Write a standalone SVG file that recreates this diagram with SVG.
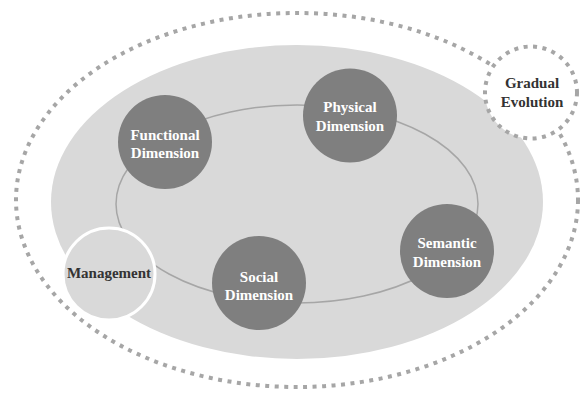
<svg xmlns="http://www.w3.org/2000/svg" width="581" height="394" viewBox="0 0 581 394">
<style>
.dot{fill:none;stroke:#a6a6a6;stroke-width:4;stroke-dasharray:4 5.5}
.dim{fill:#7f7f7f}
.wt{font-family:"Liberation Serif","Times New Roman",serif;font-weight:bold;font-size:15px;fill:#ffffff;text-anchor:middle}
.dk{font-family:"Liberation Serif","Times New Roman",serif;font-weight:bold;font-size:15px;fill:#333333;text-anchor:middle}
</style>
<rect width="581" height="394" fill="#ffffff"/>
<g id="outer-boundary"><ellipse class="dot" cx="297" cy="200" rx="281" ry="187"/></g>
<g id="context"><ellipse cx="297" cy="202" rx="246" ry="157" fill="#d9d9d9"/></g>
<g id="connectors"><ellipse cx="297" cy="204" rx="181" ry="99" fill="none" stroke="#a6a6a6" stroke-width="1.5"/></g>
<g id="management">
<circle cx="109" cy="274" r="46" fill="#d9d9d9" stroke="#ffffff" stroke-width="3"/>
<text class="dk" x="109" y="278">Management</text>
</g>
<g id="functional">
<circle class="dim" cx="165" cy="142" r="47"/>
<text class="wt" x="165" y="140">Functional</text>
<text class="wt" x="165" y="158">Dimension</text>
</g>
<g id="physical">
<circle class="dim" cx="350" cy="115.5" r="47"/>
<text class="wt" x="350" y="112">Physical</text>
<text class="wt" x="350" y="131">Dimension</text>
</g>
<g id="semantic">
<circle class="dim" cx="447" cy="251" r="47"/>
<text class="wt" x="447" y="248">Semantic</text>
<text class="wt" x="447" y="267">Dimension</text>
</g>
<g id="social">
<circle class="dim" cx="259" cy="283" r="47"/>
<text class="wt" x="259" y="282">Social</text>
<text class="wt" x="259" y="300">Dimension</text>
</g>
<g id="gradual-evolution">
<circle class="dot" cx="531" cy="92.5" r="46" fill="#ffffff" style="fill:#ffffff"/>
<text class="dk" x="532" y="88">Gradual</text>
<text class="dk" x="532" y="107">Evolution</text>
</g>
</svg>
